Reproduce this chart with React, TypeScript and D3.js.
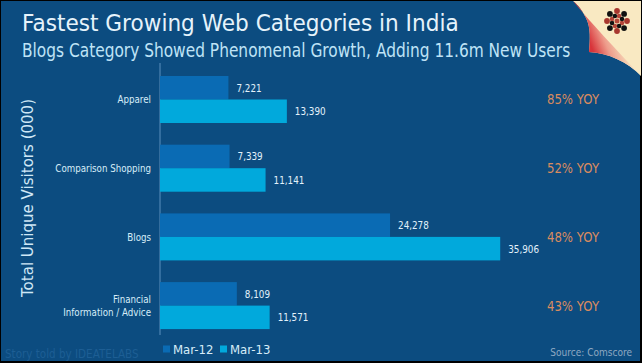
import { useEffect } from 'react'
import type { ReactNode } from 'react'
import * as d3 from 'd3'

// Comscore India, unique visitors (000), Mar-12 vs Mar-13
const categories = ['Apparel', 'Comparison Shopping', 'Blogs', 'Financial Information / Advice']
const categoryLines = [['Apparel'], ['Comparison Shopping'], ['Blogs'], ['Financial', 'Information / Advice']]
const mar12 = [7221, 7339, 24278, 8109]
const mar13 = [13390, 11141, 35906, 11571]
const yoy = ['85% YOY', '52% YOY', '48% YOY', '43% YOY']
const seriesNames = ['Mar-12', 'Mar-13']

const W = 642, H = 363
const BG = '#0c4c80'
const C12 = '#0a6bb4'
const C13 = '#01a9dc'
const FONT = "'DejaVu Sans', sans-serif"

// the original uses a narrow face; squeeze DejaVu horizontally instead
function T({ x, y, sx = 0.85, size, fill, anchor = 'start', dy, rotate, children }: {
  x: number, y: number, sx?: number, size: number, fill: string, anchor?: string, dy?: string, rotate?: number, children: ReactNode
}) {
  const tr = `translate(${x},${y})${rotate ? ` rotate(${rotate})` : ''} scale(${sx},1)`
  return <text transform={tr} fontSize={size} fill={fill} textAnchor={anchor} dy={dy}>{children}</text>
}

export default function App() {
  useEffect(() => { document.body.style.margin = '0' }, [])

  const x = d3.scaleLinear().domain([0, 40000]).range([160, 539])
  const y = d3.scaleBand<string>().domain(categories).range([65.15, 339.95]).paddingInner(0.316).paddingOuter(0.158)
  const sub = d3.scaleBand<number>().domain([0, 1]).range([0, y.bandwidth()])
  const fmt = d3.format(',')

  // logo: ring of dots around a small cross
  const logoAngles = d3.range(8).map(i => (i * Math.PI) / 4)

  return (
    <svg width={W} height={H} style={{ display: 'block', position: 'absolute', left: 0, top: 0 }} fontFamily={FONT}>
      <defs>
        <linearGradient id="flap" gradientUnits="userSpaceOnUse" x1="588" y1="38" x2="618" y2="26">
          <stop offset="0" stopColor="#d8343a" />
          <stop offset="0.45" stopColor="#ee9d8c" />
          <stop offset="1" stopColor="#f8e4c0" />
        </linearGradient>
      </defs>
      <rect x={0} y={0} width={W} height={H} fill="#000" />
      <rect x={1} y={1} width={W - 3} height={H - 3} fill={BG} />

      {/* page curl top-right */}
      <path d="M573,1 L641,1 L641,76 C628,62 608,53 589,52 C590,40 591,28 586,18 C582,10 578,5 573,1 Z" fill="#f9e9c2" />
      <path d="M573,1 C590,22 615,48 641,76 C628,62 608,53 589,52 C590,40 591,28 586,18 C582,10 578,5 573,1 Z" fill="url(#flap)" />
      <g transform="translate(617,21)">
        {logoAngles.map((a, i) => (
          <circle key={'o' + i} cx={Math.cos(a) * 10} cy={Math.sin(a) * 10} r={2.9} fill={i % 2 ? '#111' : '#a8372e'} />
        ))}
        {logoAngles.map((a, i) => (
          <circle key={'m' + i} cx={Math.cos(a + Math.PI / 8) * 5.4} cy={Math.sin(a + Math.PI / 8) * 5.4} r={2.3} fill={i % 2 ? '#111' : '#b5463a'} />
        ))}
        <circle r={2.5} fill="#b5463a" />
      </g>

      {/* titles */}
      <T x={22} y={31} sx={0.94} size={23} fill="#e6f3fb">Fastest Growing Web Categories in India</T>
      <T x={22} y={57} sx={0.79} size={19.5} fill="#bfe3f6">Blogs Category Showed Phenomenal Growth, Adding 11.6m New Users</T>

      {/* y axis title */}
      <T x={33} y={198} rotate={-90} sx={0.94} size={16} anchor="middle" fill="#cfe7f6">Total Unique Visitors (000)</T>

      {/* axis line */}
      <line x1={x(0)} x2={x(0)} y1={63} y2={335} stroke="#5b8fbd" strokeWidth={1} />

      {categories.map((c, i) => {
        const y0 = y(c)!
        const cy = y0 + y.bandwidth() / 2
        const lines = categoryLines[i]
        const vals = [mar12[i], mar13[i]]
        return (
          <g key={c}>
            {vals.map((v, s) => (
              <g key={s}>
                <rect x={x(0)} y={y0 + sub(s)!} width={x(v) - x(0)} height={sub.bandwidth()} fill={s ? C13 : C12} />
                <T x={x(v) + 8} y={y0 + sub(s)! + sub.bandwidth() / 2} dy="0.35em" sx={0.8} size={11} fill="#e3f2fb">{fmt(v)}</T>
              </g>
            ))}
            {lines.map((l, j) => (
              <T key={j} x={151} y={cy + (j - (lines.length - 1) / 2) * 12.5} dy="0.35em" anchor="end" sx={0.83} size={10.5} fill="#d7ecf8">{l}</T>
            ))}
            <T x={573} y={cy} dy="0.35em" anchor="middle" sx={0.84} size={14} fill="#d98b5f">{yoy[i]}</T>
          </g>
        )
      })}

      {/* legend */}
      {seriesNames.map((n, i) => (
        <g key={n} transform={`translate(${163 + i * 57},349)`}>
          <rect x={0} y={-3.5} width={7} height={7} fill={i ? C13 : C12} />
          <T x={10} y={0} dy="0.35em" sx={0.9} size={13} fill="#d7ecf8">{n}</T>
        </g>
      ))}

      <T x={5} y={358} sx={0.8} size={13} fill="#1d5e94">Story told by IDEATELABS</T>
      <T x={632} y={356} anchor="end" sx={0.82} size={11} fill="#8fa8c2">Source: Comscore</T>
    </svg>
  )
}
